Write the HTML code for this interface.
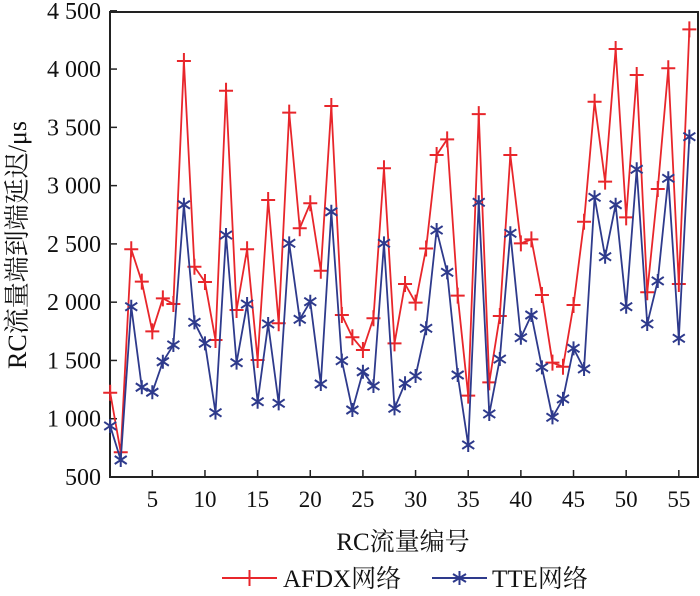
<!DOCTYPE html>
<html><head><meta charset="utf-8"><style>
body{margin:0;background:#fff}
svg text{font-family:"Liberation Serif","Noto Serif CJK SC",serif;fill:#111}
</style></head><body>
<svg id="chart" width="700" height="591">
<rect x="110" y="12" width="588" height="465" fill="#fff" stroke="#222" stroke-width="2"/>
<g id="axes"></g>
<g id="series"></g>
<text x="403" y="550" text-anchor="middle" font-size="25">RC流量编号</text>
<text transform="translate(26,245) rotate(-90)" text-anchor="middle" font-size="26">RC流量端到端延迟/μs</text>
<g>
<g>
<line x1="222" y1="578" x2="277" y2="578" stroke="#e8262b" stroke-width="2"/>
<path d="M249.5 570v16M242 578h15" stroke="#e8262b" stroke-width="2"/>
<text x="283" y="587" font-size="25">AFDX网络</text></g>
<g>
<line x1="432" y1="578" x2="487" y2="578" stroke="#2e3a8c" stroke-width="2"/>
<path d="M459.5 571v14M453 574l13 8M453 582l13-8" stroke="#2e3a8c" stroke-width="2"/>
<text x="492" y="587" font-size="25">TTE网络</text></g>
</g>
</svg>
<script>
const categories = Array.from({length:56},(_, i)=>i+1);
const afdx = [1223,712,2454,2176,1750,2033,1984,4069,2304,2173,1675,3814,1933,2454,1504,2877,1819,3626,2634,2849,2270,3683,1890,1699,1590,1862,3149,1647,2156,1996,2460,3263,3397,2056,1198,3614,1312,1881,3263,2505,2539,2062,1481,1446,1976,2690,3720,3034,4172,2728,3949,2085,2971,4007,2156,4341];
const tte = [938,646,1961,1270,1227,1489,1633,2836,1827,1647,1052,2576,1481,1984,1146,1813,1132,2505,1853,2004,1298,2776,1498,1075,1403,1281,2505,1089,1304,1367,1776,2619,2256,1375,775,2857,1041,1512,2591,1695,1890,1441,1012,1170,1604,1427,2900,2390,2836,1961,3140,1813,2182,3063,1690,3420];
const xTicks = [5,10,15,20,25,30,35,40,45,50,55];
const yTicks = [500,1000,1500,2000,2500,3000,3500,4000,4500];
const yTickLabels = ["500","1 000","1 500","2 000","2 500","3 000","3 500","4 000","4 500"];
const NS='http://www.w3.org/2000/svg';
const xs = v => 110.2 + (v-1)*10.53;
const ys = v => 477 - (v-500)*0.11655;
function mk(tag, attrs, parent){const e=document.createElementNS(NS,tag);for(const k in attrs)e.setAttribute(k,attrs[k]);parent.appendChild(e);return e;}
const ax=document.getElementById('axes'), sg=document.getElementById('series');
xTicks.forEach(t=>{
  const l=mk('line',{x1:xs(t),x2:xs(t),y1:477,y2:470,stroke:'#222','stroke-width':1.5},ax);
  
  
  const tx=mk('text',{x:xs(t),y:507,'text-anchor':'middle','font-size':23},ax);tx.textContent=t;
  
  
});
yTicks.forEach((t,i)=>{
  const l=mk('line',{x1:110,x2:117,y1:ys(t),y2:ys(t),stroke:'#222','stroke-width':1.5},ax);
  
  
  const tx=mk('text',{x:101,y:ys(t)+8,'text-anchor':'end','font-size':24},ax);tx.textContent=yTickLabels[i];
  
  
});
function draw(vals,color,name,marker){
  const p=mk('polyline',{points:vals.map((v,i)=>xs(categories[i])+','+ys(v)).join(' '),fill:'none',stroke:color,'stroke-width':1.8},sg);
  
  
  vals.forEach((v,i)=>{
    const x=xs(categories[i]), y=ys(v);
    const d = marker==='plus' ? `M${x} ${y-8}v16M${x-7} ${y}h14` : `M${x} ${y-7}v14M${x-6} ${y-4}l12 8M${x-6} ${y+4}l12 -8`;
    const m=mk('path',{d:d,stroke:color,'stroke-width':2,fill:'none'},sg);
    
    
  });
}
draw(afdx,'#e8262b','afdx','plus');
draw(tte,'#2e3a8c','tte','star');
</script>
</body></html>
